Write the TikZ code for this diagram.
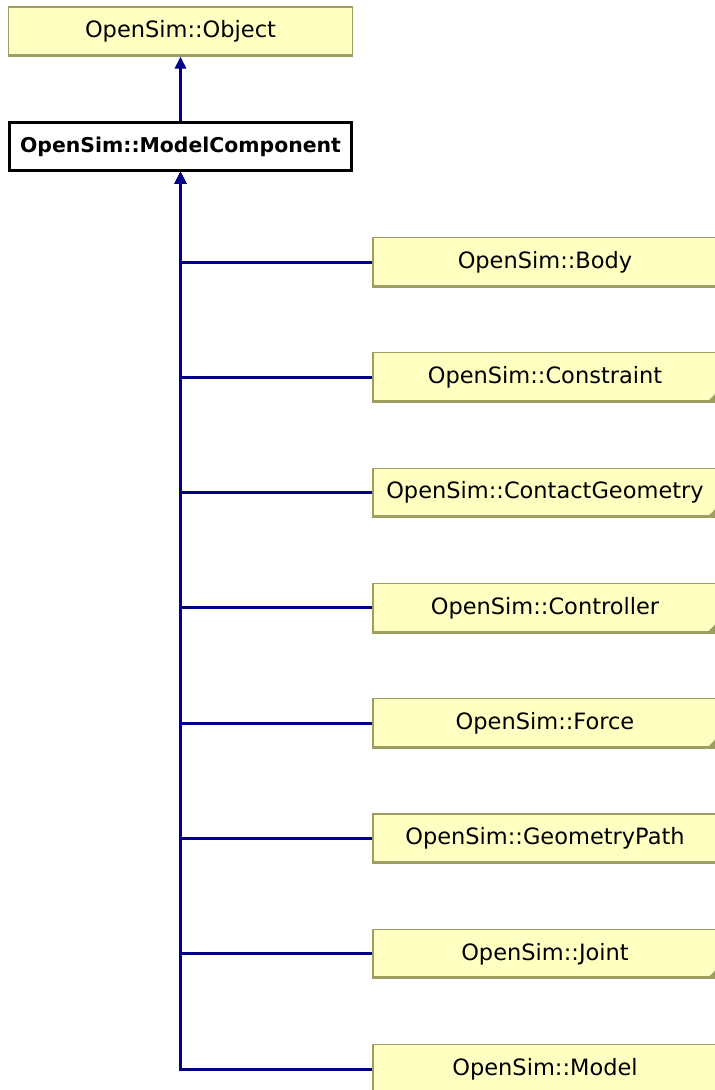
\documentclass[tikz,border=0pt]{standalone}
\usepackage{fontspec}
\setmainfont{DejaVu Sans}
\usetikzlibrary{arrows.meta}
\definecolor{boxfill}{HTML}{FFFFC2}
\definecolor{boxline}{HTML}{9E9E62}
\definecolor{edgeblue}{HTML}{000088}
\tikzset{
  cls/.style={draw=boxline, fill=boxfill, line width=1.2pt, inner sep=0pt,
    minimum width=344pt, minimum height=49pt,
    font=\fontsize{22.5}{27}\selectfont},
  focus/.style={draw=black, fill=white, line width=2.6pt, inner sep=0pt,
    minimum width=342pt, minimum height=48pt,
    font=\fontsize{20.4}{25}\selectfont\bfseries},
  shadowline/.style={draw=boxline, line width=3pt},
  fold/.style={fill=boxline},
  edge/.style={draw=edgeblue, line width=3pt,
    -{Triangle[width=11pt,length=12pt]}}
}
\newcommand{\foldmark}[1]{%
  \fill[fold] ([xshift=-11pt]#1.south east) -- (#1.south east) -- ([yshift=11pt]#1.south east) -- cycle;}
\begin{document}
\begin{tikzpicture}[x=1pt,y=-1pt]
  \useasboundingbox (0,0) rectangle (715,1090);
  \fill[white] (0,0) rectangle (715,1090);
  \clip (0,0) rectangle (715,1090);

  % base classes
  \node[cls] (obj) at (180.5,31.5) {OpenSim::Object};
  \draw[shadowline] ([yshift=1pt]obj.south west) -- ([yshift=1pt]obj.south east);
  \node[focus] (mc) at (180.5,146.5) {OpenSim::ModelComponent};

  % derived classes
  \foreach \name/\label/\row in {
      body/OpenSim::Body/0,
      constraint/OpenSim::Constraint/1,
      contact/OpenSim::ContactGeometry/2,
      controller/OpenSim::Controller/3,
      force/OpenSim::Force/4,
      gpath/OpenSim::GeometryPath/5,
      joint/OpenSim::Joint/6,
      model/OpenSim::Model/7} {
    \node[cls] (\name) at (545,262+115.3*\row) {\label};
    \draw[shadowline] ([yshift=1pt]\name.south west) -- ([yshift=1pt]\name.south east);
  }
  \foldmark{constraint}
  \foldmark{contact}
  \foldmark{controller}
  \foldmark{force}
  \foldmark{joint}

  % inheritance edges
  \draw[edge] (mc.north) -- (obj.south);
  \foreach \name in {body,constraint,contact,controller,force,gpath,joint,model}
    \draw[edge] (\name.west) -| (mc.south);
\end{tikzpicture}
\end{document}
